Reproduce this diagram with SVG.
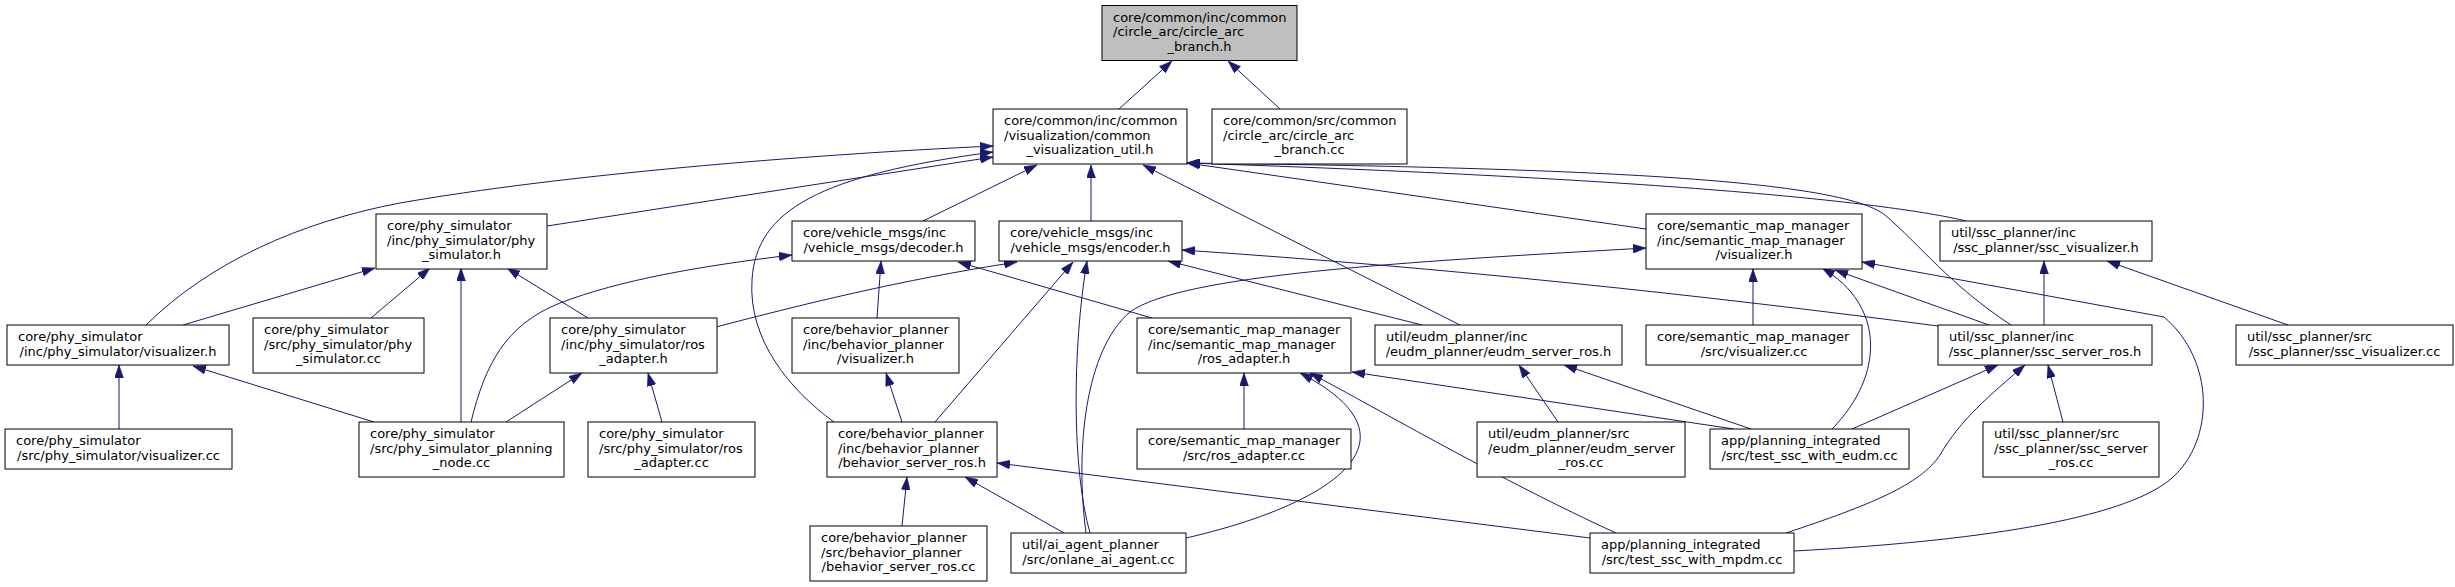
<svg xmlns="http://www.w3.org/2000/svg" width="2455" height="587" viewBox="0 0 2455 587">
<style>
.n rect{fill:#ffffff;stroke:#000000;stroke-width:1}
.root rect{fill:#bfbfbf;stroke:#000000;stroke-width:1}
text{font-family:"DejaVu Sans","Liberation Sans",sans-serif;font-size:13px;fill:#000000}
.c{text-anchor:middle}
#edges path{fill:none;stroke:#191970;stroke-width:1;marker-end:url(#ah)}
</style>
<defs>
<marker id="ah" markerUnits="userSpaceOnUse" markerWidth="13" markerHeight="9" refX="13" refY="4.5" orient="auto">
<path d="M0,0 L13,4.5 L0,9 z" fill="#191970" stroke="#191970" stroke-width="0.5"/>
</marker>
</defs>
<rect x="0" y="0" width="2455" height="587" fill="#ffffff"/>
<g id="edges">
<path d="M1119,109 L1172,61"/>
<path d="M1280,109 L1228,61"/>
<path d="M146,325 C210,262 300,222 400,203 C560,175 800,155 993,146"/>
<path d="M834,422 C790,390 748,340 752,280 C756,210 820,175 993,152"/>
<path d="M547,226 L993,157"/>
<path d="M923,221 L1037,165"/>
<path d="M1091,221 L1091,165"/>
<path d="M1460,325 L1143,165"/>
<path d="M2011,325 C1950,285 1920,245 1885,215 C1840,180 1600,168 1187,163"/>
<path d="M1966,221 C1900,205 1700,180 1187,163"/>
<path d="M1646,229 L1187,163"/>
<path d="M183,325 L375,268"/>
<path d="M371,318 L430,268"/>
<path d="M461,422 L461,268"/>
<path d="M588,318 L507,268"/>
<path d="M471,422 C485,365 505,325 560,303 C620,280 700,266 792,255"/>
<path d="M716,327 C800,305 900,280 1017,262"/>
<path d="M374,422 L193,366"/>
<path d="M119,429 L119,365"/>
<path d="M506,422 L582,373"/>
<path d="M662,422 L648,373"/>
<path d="M877,318 L881,261"/>
<path d="M935,422 L1073,262"/>
<path d="M1090,533 C1072,470 1072,350 1087,261"/>
<path d="M1152,318 L958,262"/>
<path d="M1086,533 C1075,450 1085,350 1130,312 C1180,275 1400,262 1646,248"/>
<path d="M1422,325 L1168,261"/>
<path d="M902,422 L886,373"/>
<path d="M1244,429 L1244,373"/>
<path d="M1186,538 C1330,505 1430,440 1300,373"/>
<path d="M1616,533 C1500,480 1380,410 1310,373"/>
<path d="M1734,429 L1352,372"/>
<path d="M1558,422 L1519,365"/>
<path d="M1751,429 L1564,365"/>
<path d="M902,526 L907,477"/>
<path d="M1064,533 L965,477"/>
<path d="M1590,538 L997,463"/>
<path d="M1938,326 C1700,295 1450,268 1182,250"/>
<path d="M1753,325 L1753,269"/>
<path d="M1832,429 C1885,375 1885,305 1822,268"/>
<path d="M1989,325 L1835,270"/>
<path d="M2044,325 L2044,261"/>
<path d="M1794,551 C2000,540 2130,515 2172,478 C2215,440 2215,360 2164,317 L1862,262"/>
<path d="M2288,325 L2107,261"/>
<path d="M1852,429 L1998,365"/>
<path d="M1786,533 C1870,505 1920,485 1940,455 C1960,420 1990,395 2025,365"/>
<path d="M2063,422 L2048,365"/>
</g>
<g id="n0" class="root"><rect x="1102" y="5.5" width="195" height="55"/><text x="1113" y="21.5">core/common/inc/common</text><text x="1113" y="36">/circle_arc/circle_arc</text><text class="c" x="1199.5" y="50.5">_branch.h</text></g>
<g id="n1" class="n"><rect x="993" y="109" width="194" height="55"/><text x="1004" y="125">core/common/inc/common</text><text x="1004" y="139.5">/visualization/common</text><text class="c" x="1090" y="154">_visualization_util.h</text></g>
<g id="n2" class="n"><rect x="1212" y="109" width="195" height="55"/><text x="1223" y="125">core/common/src/common</text><text x="1223" y="139.5">/circle_arc/circle_arc</text><text class="c" x="1309.5" y="154">_branch.cc</text></g>
<g id="n3" class="n"><rect x="376" y="214" width="171" height="55"/><text x="387" y="230">core/phy_simulator</text><text x="387" y="244.5">/inc/phy_simulator/phy</text><text class="c" x="461.5" y="259">_simulator.h</text></g>
<g id="n4" class="n"><rect x="792" y="221" width="183" height="40"/><text x="803" y="237">core/vehicle_msgs/inc</text><text class="c" x="883.5" y="251.5">/vehicle_msgs/decoder.h</text></g>
<g id="n5" class="n"><rect x="999" y="221" width="183" height="40"/><text x="1010" y="237">core/vehicle_msgs/inc</text><text class="c" x="1090.5" y="251.5">/vehicle_msgs/encoder.h</text></g>
<g id="n6" class="n"><rect x="1646" y="214" width="216" height="55"/><text x="1657" y="230">core/semantic_map_manager</text><text x="1657" y="244.5">/inc/semantic_map_manager</text><text class="c" x="1754" y="259">/visualizer.h</text></g>
<g id="n7" class="n"><rect x="1940" y="221" width="212" height="40"/><text x="1951" y="237">util/ssc_planner/inc</text><text class="c" x="2046" y="251.5">/ssc_planner/ssc_visualizer.h</text></g>
<g id="n8" class="n"><rect x="7" y="325" width="222" height="40"/><text x="18" y="341">core/phy_simulator</text><text class="c" x="118" y="355.5">/inc/phy_simulator/visualizer.h</text></g>
<g id="n9" class="n"><rect x="253" y="318" width="171" height="55"/><text x="264" y="334">core/phy_simulator</text><text x="264" y="348.5">/src/phy_simulator/phy</text><text class="c" x="338.5" y="363">_simulator.cc</text></g>
<g id="n10" class="n"><rect x="550" y="318" width="167" height="55"/><text x="561" y="334">core/phy_simulator</text><text x="561" y="348.5">/inc/phy_simulator/ros</text><text class="c" x="633.5" y="363">_adapter.h</text></g>
<g id="n11" class="n"><rect x="792" y="318" width="167" height="55"/><text x="803" y="334">core/behavior_planner</text><text x="803" y="348.5">/inc/behavior_planner</text><text class="c" x="875.5" y="363">/visualizer.h</text></g>
<g id="n12" class="n"><rect x="1137" y="318" width="214" height="55"/><text x="1148" y="334">core/semantic_map_manager</text><text x="1148" y="348.5">/inc/semantic_map_manager</text><text class="c" x="1244" y="363">/ros_adapter.h</text></g>
<g id="n13" class="n"><rect x="1375" y="325" width="247" height="40"/><text x="1386" y="341">util/eudm_planner/inc</text><text class="c" x="1498.5" y="355.5">/eudm_planner/eudm_server_ros.h</text></g>
<g id="n14" class="n"><rect x="1646" y="325" width="216" height="40"/><text x="1657" y="341">core/semantic_map_manager</text><text class="c" x="1754" y="355.5">/src/visualizer.cc</text></g>
<g id="n15" class="n"><rect x="1938" y="325" width="214" height="40"/><text x="1949" y="341">util/ssc_planner/inc</text><text class="c" x="2045" y="355.5">/ssc_planner/ssc_server_ros.h</text></g>
<g id="n16" class="n"><rect x="2236" y="325" width="217" height="40"/><text x="2247" y="341">util/ssc_planner/src</text><text class="c" x="2344.5" y="355.5">/ssc_planner/ssc_visualizer.cc</text></g>
<g id="n17" class="n"><rect x="5" y="429" width="227" height="40"/><text x="16" y="445">core/phy_simulator</text><text class="c" x="118.5" y="459.5">/src/phy_simulator/visualizer.cc</text></g>
<g id="n18" class="n"><rect x="359" y="422" width="205" height="55"/><text x="370" y="438">core/phy_simulator</text><text x="370" y="452.5">/src/phy_simulator_planning</text><text class="c" x="461.5" y="467">_node.cc</text></g>
<g id="n19" class="n"><rect x="588" y="422" width="167" height="55"/><text x="599" y="438">core/phy_simulator</text><text x="599" y="452.5">/src/phy_simulator/ros</text><text class="c" x="671.5" y="467">_adapter.cc</text></g>
<g id="n20" class="n"><rect x="827" y="422" width="170" height="55"/><text x="838" y="438">core/behavior_planner</text><text x="838" y="452.5">/inc/behavior_planner</text><text class="c" x="912" y="467">/behavior_server_ros.h</text></g>
<g id="n21" class="n"><rect x="1137" y="429" width="214" height="40"/><text x="1148" y="445">core/semantic_map_manager</text><text class="c" x="1244" y="459.5">/src/ros_adapter.cc</text></g>
<g id="n22" class="n"><rect x="1477" y="422" width="208" height="55"/><text x="1488" y="438">util/eudm_planner/src</text><text x="1488" y="452.5">/eudm_planner/eudm_server</text><text class="c" x="1581" y="467">_ros.cc</text></g>
<g id="n23" class="n"><rect x="1710" y="429" width="199" height="40"/><text x="1721" y="445">app/planning_integrated</text><text class="c" x="1809.5" y="459.5">/src/test_ssc_with_eudm.cc</text></g>
<g id="n24" class="n"><rect x="1983" y="422" width="176" height="55"/><text x="1994" y="438">util/ssc_planner/src</text><text x="1994" y="452.5">/ssc_planner/ssc_server</text><text class="c" x="2071" y="467">_ros.cc</text></g>
<g id="n25" class="n"><rect x="810" y="526" width="177" height="55"/><text x="821" y="542">core/behavior_planner</text><text x="821" y="556.5">/src/behavior_planner</text><text class="c" x="898.5" y="571">/behavior_server_ros.cc</text></g>
<g id="n26" class="n"><rect x="1011" y="533" width="175" height="40"/><text x="1022" y="549">util/ai_agent_planner</text><text class="c" x="1098.5" y="563.5">/src/onlane_ai_agent.cc</text></g>
<g id="n27" class="n"><rect x="1590" y="533" width="204" height="40"/><text x="1601" y="549">app/planning_integrated</text><text class="c" x="1692" y="563.5">/src/test_ssc_with_mpdm.cc</text></g>
</svg>
